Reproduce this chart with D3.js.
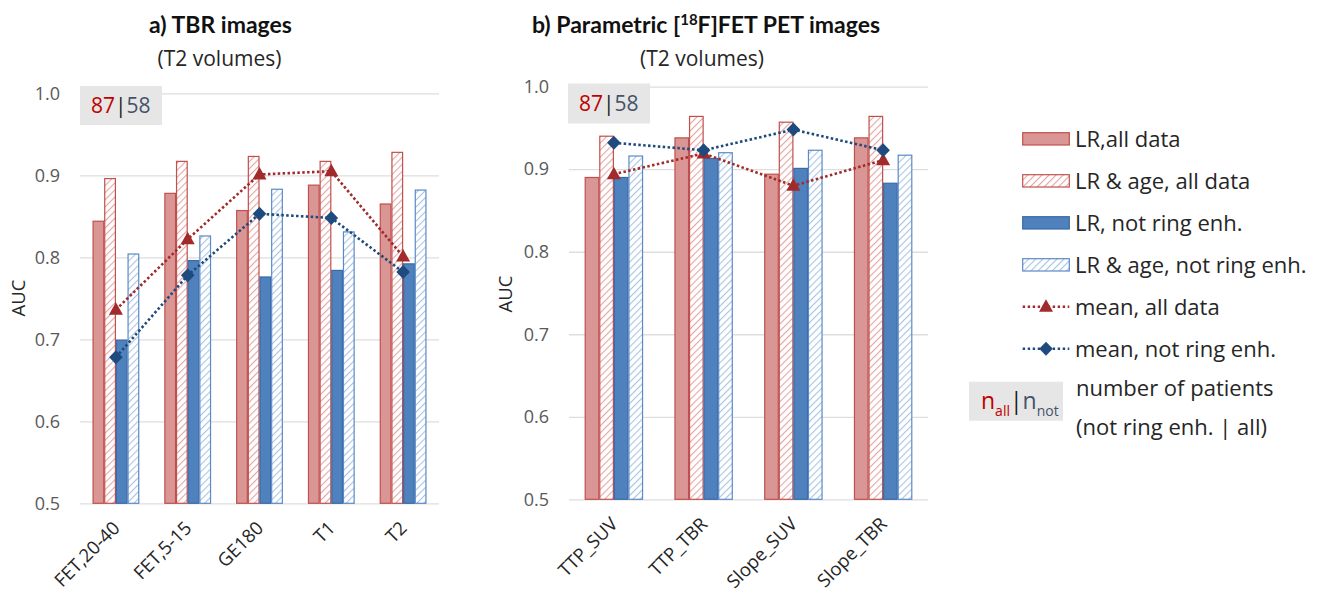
<!DOCTYPE html>
<html>
<head>
<meta charset="utf-8">
<script src="https://cdn.jsdelivr.net/npm/d3@7"></script>
<style>
  html, body { margin: 0; padding: 0; background: #ffffff; }
  svg { display: block; font-family: "Open Sans", Lato, sans-serif; }
</style>
</head>
<body>
<svg id="chart" width="1326" height="594"></svg>
<script>
// ---------------- DATA ----------------
const seriesKeys = ["LR, all data", "LR & age, all data", "LR, not ring enh.", "LR & age, not ring enh."];
const legendLabels = ["LR,all data", "LR & age, all data", "LR, not ring enh.", "LR & age, not ring enh.", "mean, all data", "mean, not ring enh."];

// Panel a) TBR images
const catsA = ["FET,20-40", "FET,5-15", "GE180", "T1", "T2"];
const lrAllA      = [0.844, 0.878, 0.857, 0.888, 0.865];
const lrAgeAllA   = [0.896, 0.917, 0.923, 0.917, 0.928];
const lrNotA      = [0.699, 0.796, 0.776, 0.784, 0.792];
const lrAgeNotA   = [0.804, 0.826, 0.883, 0.831, 0.882];
const meanAllA    = [0.736, 0.822, 0.901, 0.905, 0.801];
const meanNotA    = [0.678, 0.778, 0.853, 0.848, 0.782];

// Panel b) Parametric [18F]FET PET images
const catsB = ["TTP_SUV", "TTP_TBR", "Slope_SUV", "Slope_TBR"];
const lrAllB      = [0.890, 0.938, 0.894, 0.938];
const lrAgeAllB   = [0.940, 0.964, 0.957, 0.964];
const lrNotB      = [0.890, 0.913, 0.901, 0.883];
const lrAgeNotB   = [0.916, 0.920, 0.923, 0.917];
const meanAllB    = [0.894, 0.919, 0.880, 0.911];
const meanNotB    = [0.932, 0.923, 0.948, 0.923];

const yTicks = [0.5, 0.6, 0.7, 0.8, 0.9, 1.0];
const nAll = "87", nNot = "58";

// ---------------- STYLE ----------------
const C = {
  redFill: "#DA9694", redStroke: "#C0504D", redHatch: "#E6A5A3",
  blueFill: "#4F81BD", blueStroke: "#3A6AA8", blueHatch: "#A9C4E4", blueHatchStroke: "#5B8AC6",
  triangle: "#A12B2B", diamond: "#1F4A7D",
  grid: "#DEDEDE", tick: "#595959", text: "#262626"
};

const svg = d3.select("#chart");
const defs = svg.append("defs");
function hatch(id, color) {
  const p = defs.append("pattern").attr("id", id).attr("patternUnits", "userSpaceOnUse")
    .attr("width", 5).attr("height", 5).attr("patternTransform", "rotate(45)");
  p.append("rect").attr("width", 5).attr("height", 5).attr("fill", "#fff");
  p.append("line").attr("x1", 0).attr("y1", 0).attr("x2", 0).attr("y2", 5)
    .attr("stroke", color).attr("stroke-width", 2.2);
}
hatch("hRed", C.redHatch);
hatch("hBlue", C.blueHatch);

const barStyle = [
  { fill: C.redFill, stroke: C.redStroke },
  { fill: "url(#hRed)", stroke: C.redStroke },
  { fill: C.blueFill, stroke: C.blueStroke },
  { fill: "url(#hBlue)", stroke: C.blueHatchStroke }
];

// marker shapes
const triPath = "M0,-7.5L7,5L-7,5Z";
const diaPath = "M0,-7L6.8,0L0,7L-6.8,0Z";

function panel(cfg) {
  const g = svg.append("g");
  const y = d3.scaleLinear().domain([0.5, 1.0]).range([cfg.bottom, cfg.top]);
  const x = d3.scaleBand().domain(cfg.cats).range([cfg.left, cfg.right])
    .paddingInner(0.35).paddingOuter(0.175);
  const xs = d3.scaleBand().domain(seriesKeys).range([0, x.bandwidth()]);

  // grid
  g.append("g").attr("transform", `translate(${cfg.left},0)`)
    .call(d3.axisLeft(y).tickValues(yTicks).tickSize(-(cfg.right - cfg.left)).tickFormat(""))
    .call(s => s.select(".domain").remove())
    .call(s => s.selectAll("line").attr("stroke", C.grid).attr("stroke-width", 1.3));
  // tick labels
  g.append("g").attr("transform", `translate(${cfg.left},0)`)
    .call(d3.axisLeft(y).tickValues(yTicks).tickSize(0).tickPadding(20).tickFormat(d3.format(".1f")))
    .call(s => s.select(".domain").remove())
    .call(s => s.selectAll("text").attr("fill", C.tick).style("font-size", "18px").style("font-family", "Open Sans"));

  // bars
  const series = cfg.series;
  seriesKeys.forEach((k, si) => {
    g.append("g").selectAll("rect").data(cfg.cats).join("rect")
      .attr("x", c => x(c) + xs(k) + 0.5)
      .attr("y", (c, i) => y(series[si][i]))
      .attr("width", xs.bandwidth() - 1)
      .attr("height", (c, i) => y(0.5) - y(series[si][i]))
      .attr("fill", barStyle[si].fill)
      .attr("stroke", barStyle[si].stroke)
      .attr("stroke-width", 1.2);
  });

  // mean lines
  const cx = c => x(c) + x.bandwidth() / 2;
  const line = d3.line();
  [[cfg.meanAll, C.triangle, triPath], [cfg.meanNot, C.diamond, diaPath]].forEach(([vals, col, shape]) => {
    const pts = cfg.cats.map((c, i) => [cx(c), y(vals[i])]);
    g.append("path").attr("d", line(pts)).attr("fill", "none").attr("stroke", col)
      .attr("stroke-width", 2.6).attr("stroke-dasharray", "2.5,2.4");
    g.append("g").selectAll("path").data(pts).join("path")
      .attr("d", shape).attr("transform", d => `translate(${d[0]},${d[1]})`)
      .attr("fill", col);
  });

  // x labels
  g.append("g").selectAll("text").data(cfg.cats).join("text")
    .attr("transform", c => `translate(${cx(c) + 5},${cfg.bottom + 26}) rotate(-45)`)
    .attr("text-anchor", "end").attr("fill", C.text)
    .style("font-size", "18.5px").text(c => c);

  // y title
  g.append("text").attr("transform", `translate(${cfg.yTitleX},${cfg.yTitleY}) rotate(-90)`)
    .attr("text-anchor", "middle").attr("dy", "0.35em").attr("fill", C.text)
    .style("font-size", "18.5px").text("AUC");

  // n box
  g.append("rect").attr("x", cfg.box[0]).attr("y", cfg.box[1]).attr("width", cfg.box[2]).attr("height", cfg.box[3])
    .attr("fill", "#E7E6E6");
  const t = g.append("text").attr("x", cfg.box[0] + 11).attr("y", cfg.box[1] + 27).style("font-size", "21px");
  t.append("tspan").attr("fill", "#C00000").text(nAll);
  t.append("tspan").attr("fill", "#1a1a1a").text("|");
  t.append("tspan").attr("fill", "#44546A").text(nNot);

  // titles
  const tt = g.append("text").attr("x", cfg.titleX).attr("y", 33).attr("text-anchor", "middle")
    .attr("fill", "#111").style("font-family", "Lato").style("font-size", "23px").style("font-weight", "bold");
  cfg.title(tt);
  g.append("text").attr("x", cfg.subX).attr("y", 66).attr("text-anchor", "middle")
    .attr("fill", C.text).style("font-size", "21px").text("(T2 volumes)");
}

panel({
  cats: catsA, left: 80, right: 439, top: 93.3, bottom: 503.3,
  series: [lrAllA, lrAgeAllA, lrNotA, lrAgeNotA], meanAll: meanAllA, meanNot: meanNotA,
  yTitleX: 18.5, yTitleY: 298, box: [80, 86, 82, 39],
  titleX: 220.5, subX: 219.5,
  title: t => t.text("a) TBR images")
});
panel({
  cats: catsB, left: 569, right: 928, top: 86.7, bottom: 499.3,
  series: [lrAllB, lrAgeAllB, lrNotB, lrAgeNotB], meanAll: meanAllB, meanNot: meanNotB,
  yTitleX: 505.5, yTitleY: 294, box: [568, 83.5, 82, 40],
  titleX: 706, subX: 702,
  title: t => {
    t.append("tspan").text("b) Parametric [");
    t.append("tspan").attr("dy", -8).style("font-size", "15px").text("18");
    t.append("tspan").attr("dy", 8).text("F]FET PET images");
  }
});

// ---------------- LEGEND ----------------
const lg = svg.append("g");
const lx = 1022.7, lw = 46.6, textX = 1075;
legendLabels.forEach((lab, i) => {
  const cy = 138.7 + 42 * i;
  if (i < 4) {
    lg.append("rect").attr("x", lx).attr("y", cy - 6).attr("width", lw).attr("height", 12.3)
      .attr("fill", barStyle[i].fill).attr("stroke", barStyle[i].stroke).attr("stroke-width", 1.2);
  } else {
    const col = i === 4 ? C.triangle : C.diamond;
    lg.append("line").attr("x1", lx).attr("x2", lx + lw).attr("y1", cy).attr("y2", cy)
      .attr("stroke", col).attr("stroke-width", 2.4).attr("stroke-dasharray", "2.4,2.6");
    lg.append("path").attr("d", i === 4 ? triPath : diaPath)
      .attr("transform", `translate(${lx + lw / 2},${cy})`).attr("fill", col);
  }
  lg.append("text").attr("x", textX).attr("y", cy).attr("dy", "0.36em").attr("fill", C.text)
    .style("font-size", "22px").text(lab);
});
lg.append("rect").attr("x", 969).attr("y", 381.7).attr("width", 94).attr("height", 39).attr("fill", "#E7E6E6");
const nt = lg.append("text").attr("x", 981).attr("y", 409.3).style("font-size", "23px");
nt.append("tspan").attr("fill", "#C00000").text("n");
nt.append("tspan").attr("fill", "#C00000").attr("dy", 7).style("font-size", "14px").text("all");
nt.append("tspan").attr("fill", "#1a1a1a").attr("dy", -7).text("|");
nt.append("tspan").attr("fill", "#44546A").text("n");
nt.append("tspan").attr("fill", "#44546A").attr("dy", 7).style("font-size", "14px").text("not");
lg.append("text").attr("x", 1076).attr("y", 396).attr("fill", C.text).style("font-size", "22px").text("number of patients");
lg.append("text").attr("x", 1076).attr("y", 435).attr("fill", C.text).style("font-size", "22px").text("(not ring enh. | all)");
</script>
</body>
</html>
